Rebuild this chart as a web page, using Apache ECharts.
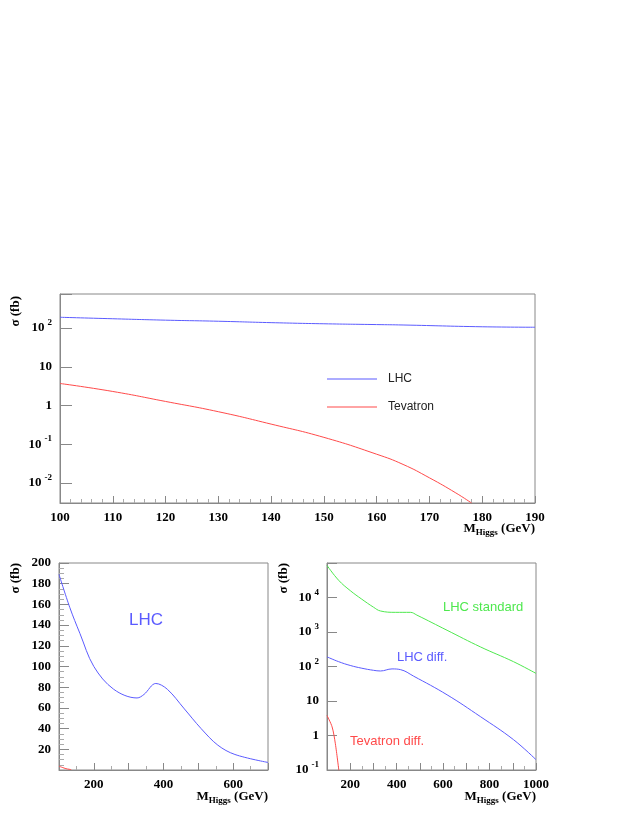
<!DOCTYPE html>
<html>
<head>
<meta charset="UTF-8">
<script src="https://cdn.jsdelivr.net/npm/echarts@6/dist/echarts.min.js"></script>
<style>html,body{margin:0;padding:0;background:#fff}</style>
</head>
<body>
<div id="main" style="width:642px;height:830px"></div>
<script>
// top panel: sigma vs M_Higgs, 100-190 GeV
var topMass = [100, 110, 120, 130, 140, 150, 160, 165, 170, 175, 178];
var topLhc = [190, 174, 160, 150, 138, 129, 123, 120, 117, 111, 110];
var topTev = [3.7, 2.3, 1.27, 0.69, 0.33, 0.15, 0.055, 0.03, 0.0135, 0.0055, 0.003];
var topLhcTail = [[180, 108], [190, 105]];

// bottom left: LHC, linear scale
var blMass = [100, 131, 160, 200, 257, 324, 344, 378, 411, 460, 508, 556, 605, 700];
var blLhc = [189, 157, 132, 100, 78, 69.6, 73, 83.6, 78, 59, 40, 24, 15, 7.3];
var blTevMass = [100, 120, 135];
var blTev = [3.7, 1.3, 0.4];

// bottom right: log scale (log10 of sigma)
var brStdMass = [100, 150, 200, 250, 300, 330, 394, 459, 487, 617, 760, 903, 1000];
var brStdLog = [4.93, 4.5, 4.2, 3.95, 3.72, 3.61, 3.57, 3.57, 3.49, 3.05, 2.57, 2.14, 1.80];
var brDiffMass = [100, 150, 200, 250, 300, 330, 380, 416, 473, 617, 760, 903, 1000];
var brDiffLog = [2.28, 2.14, 2.03, 1.95, 1.89, 1.87, 1.93, 1.91, 1.72, 1.18, 0.55, -0.12, -0.70];
var brTevMass = [100, 122, 136, 151];
var brTevLog = [0.58, 0.25, -0.24, -1.01];

var BLUE = '#5b5bff', RED = '#ff4a4a', GREEN = '#4ee84e';
var serif = 'Liberation Serif';

function zip(xs, ys) { return xs.map(function (x, i) { return [x, ys[i]]; }); }
function zipLog(xs, ys) { return xs.map(function (x, i) { return [x, Math.pow(10, ys[i])]; }); }

function logLabel(v) {
  var e = Math.round(Math.log10(v));
  if (Math.abs(Math.log10(v) - e) > 1e-6) return '';
  if (e === 0) return '{b|1}';
  if (e === 1) return '{b|10}';
  return '{b|10}{s|' + e + '}';
}
var labRich = {
  b: {fontFamily: serif, fontWeight: 'bold', fontSize: 13, color: '#000'},
  s: {fontFamily: serif, fontWeight: 'bold', fontSize: 9, color: '#000', padding: [0, 0, 10, 3]}
};

function xAxisBase(grid, min, max, interval, step) {
  return {
    type: 'value', gridIndex: grid, min: min, max: max, interval: interval,
    axisLine: {lineStyle: {color: '#888'}},
    axisTick: {inside: true, length: 7, lineStyle: {color: '#888'}},
    minorTick: {show: true, splitNumber: step, length: 4, lineStyle: {color: '#aaa'}},
    splitLine: {show: false},
    axisLabel: {fontFamily: serif, fontWeight: 'bold', fontSize: 13, color: '#000', margin: 8,
      formatter: function (v) { return (grid === 0 || v % 200 === 0) ? String(v) : ''; }}
  };
}

function line(name, data, color, xi, yi, smooth) {
  return {name: name, type: 'line', xAxisIndex: xi, yAxisIndex: yi, data: data,
    symbol: 'none', smooth: smooth, clip: true, silent: true,
    lineStyle: {color: color, width: 1}, itemStyle: {color: color}};
}

function mTitle(right, top) {
  return {type: 'text', right: right, top: top, style: {
    text: '{m|M}{s|Higgs}{m| (GeV)}',
    rich: {m: {fontFamily: serif, fontWeight: 'bold', fontSize: 13, color: '#000'},
           s: {fontFamily: serif, fontWeight: 'bold', fontSize: 9, color: '#000', padding: [8, 0, 0, 0]}}}};
}
function sTitle(x, y) {
  return {type: 'text', x: x, y: y, rotation: Math.PI / 2, style: {
    text: 'σ (fb)', font: 'bold 13px ' + serif, fill: '#000', align: 'right', verticalAlign: 'middle'}};
}
function note(x, y, txt, color, size) {
  return {type: 'text', x: x, y: y, style: {text: txt, fill: color,
    font: size + 'px "Liberation Sans"', verticalAlign: 'middle'}};
}

var chart = echarts.init(document.getElementById('main'));
chart.setOption({
  animation: false,
  grid: [
    {left: 60, width: 475, top: 294, height: 209, show: true, borderColor: '#888', borderWidth: 1},
    {left: 59, width: 209, top: 563, height: 207, show: true, borderColor: '#888', borderWidth: 1},
    {left: 327, width: 209, top: 563, height: 207, show: true, borderColor: '#888', borderWidth: 1}
  ],
  legend: {
    data: ['LHC', 'Tevatron'], orient: 'vertical', left: 322, top: 368, itemGap: 16,
    itemWidth: 50, itemHeight: 1, icon: 'rect',
    textStyle: {fontFamily: 'Liberation Sans', fontSize: 12, color: '#222', padding: [0, 0, 0, 6]}
  },
  xAxis: [
    xAxisBase(0, 100, 190, 10, 5),
    xAxisBase(1, 100, 700, 100, 2),
    xAxisBase(2, 100, 1000, 100, 2)
  ],
  yAxis: [
    {type: 'log', gridIndex: 0, logBase: 10, min: Math.pow(10, -2.52), max: Math.pow(10, 2.88),
      axisLine: {show: true, lineStyle: {color: '#888'}},
      axisTick: {inside: true, length: 12, lineStyle: {color: '#888'}},
      splitLine: {show: false},
      axisLabel: {formatter: logLabel, rich: labRich, margin: 8}},
    {type: 'value', gridIndex: 1, min: 0, max: 200, interval: 20,
      axisLine: {show: true, lineStyle: {color: '#888'}},
      axisTick: {inside: true, length: 10, lineStyle: {color: '#888'}},
      minorTick: {show: true, splitNumber: 4, length: 5, lineStyle: {color: '#aaa'}},
      splitLine: {show: false},
      axisLabel: {fontFamily: serif, fontWeight: 'bold', fontSize: 13, color: '#000', margin: 8,
        formatter: function (v) { return v === 0 ? '' : String(v); }}},
    {type: 'log', gridIndex: 2, logBase: 10, min: 0.1, max: 1e5,
      axisLine: {show: true, lineStyle: {color: '#888'}},
      axisTick: {inside: true, length: 10, lineStyle: {color: '#888'}},
      splitLine: {show: false},
      axisLabel: {formatter: function (v) { return v > 2e4 ? '' : logLabel(v); }, rich: labRich, margin: 8}}
  ],
  series: [
    line('LHC', zip(topMass.slice(0, 8), topLhc.slice(0, 8)).concat(topLhcTail), BLUE, 0, 0, 0.5),
    line('Tevatron', zip(topMass, topTev), RED, 0, 0, 0.5),
    line('LHC bl', zip(blMass, blLhc), BLUE, 1, 1, 0.35),
    line('Tevatron bl', zip(blTevMass, blTev), RED, 1, 1, 0.3),
    line('LHC standard', zipLog(brStdMass, brStdLog), GREEN, 2, 2, 0.4),
    line('LHC diff.', zipLog(brDiffMass, brDiffLog), BLUE, 2, 2, 0.4),
    line('Tevatron diff.', zipLog(brTevMass, brTevLog), RED, 2, 2, 0.3)
  ],
  graphic: [
    sTitle(16, 296),
    sTitle(16, 563),
    sTitle(284, 563),
    mTitle(107, 522),
    mTitle(374, 790),
    mTitle(106, 790),
    note(129, 620, 'LHC', BLUE, 17),
    note(443, 607, 'LHC standard', GREEN, 13),
    note(397, 657, 'LHC diff.', BLUE, 13),
    note(350, 741, 'Tevatron diff.', RED, 13)
  ]
});
</script>
</body>
</html>
